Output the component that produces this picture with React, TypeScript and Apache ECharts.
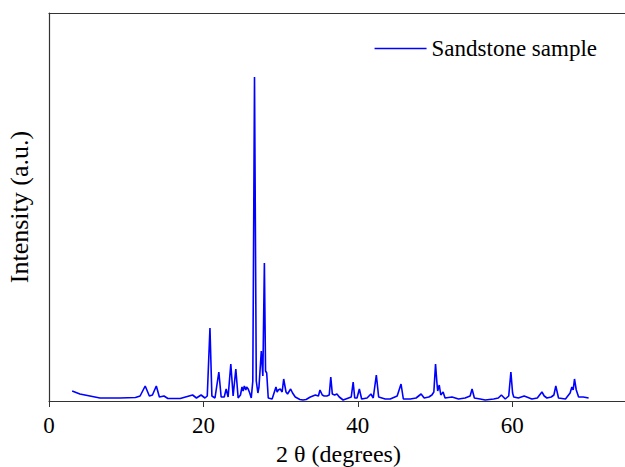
import React, { useEffect, useRef } from "react";
import * as echarts from "echarts";

const seriesName = "Sandstone sample";
const xTicks = [0, 20, 40, 60];

// 2θ (degrees)
const twoTheta = [
  3.0, 4.0, 6.6, 9.2, 11.2, 11.8, 12.46, 13.0, 13.4, 13.9, 14.3, 14.9, 15.4, 17.0,
  18.6, 19.1, 19.7, 20.2, 20.5, 20.85, 21.1, 21.5, 22.0, 22.3, 22.7, 22.95, 23.2,
  23.55, 23.85, 24.2, 24.5, 24.8, 25.0, 25.15, 25.3, 25.5, 25.6, 25.8, 26.0, 26.2,
  26.4, 26.62, 26.85, 27.06, 27.2, 27.5, 27.7, 27.9, 28.05, 28.2, 28.4, 28.9, 29.4,
  29.55, 29.7, 29.95, 30.2, 30.4, 30.7, 30.9, 31.3, 31.55, 31.9, 32.5, 32.9, 33.3,
  33.85, 34.5, 34.9, 35.1, 35.4, 35.65, 36.0, 36.3, 36.5, 36.7, 37.0, 37.3, 37.6,
  38.1, 38.8, 39.15, 39.4, 39.6, 39.9, 40.2, 40.5, 41.2, 41.7, 42.0, 42.4, 42.7,
  43.55, 44.2, 45.1, 45.6, 45.9, 46.8, 47.55, 48.2, 48.6, 49.2, 49.6, 49.85, 50.07,
  50.25, 50.35, 50.55, 50.75, 51.05, 51.3, 52.2, 53.05, 53.9, 54.55, 54.8, 55.1,
  55.85, 56.5, 57.6, 58.2, 58.6, 59.1, 59.55, 59.83, 60.05, 60.2, 60.8, 61.55, 62.55,
  63.25, 63.85, 64.15, 64.5, 65.05, 65.4, 65.65, 66.0, 66.9, 67.5, 67.73, 67.9, 68.07,
  68.3, 68.6, 69.2, 69.9,
];

// Intensity (a.u.)
const intensity = [
  10, 7, 3, 3, 3.5, 5, 15, 5, 6, 15, 4, 5, 2.5, 2.5,
  6, 3, 6, 3, 5, 73, 5, 3, 29, 4, 4, 12, 4,
  37, 5, 32, 3, 6, 14, 10, 15, 11, 14, 12, 8, 3,
  20, 324, 20, 8, 14, 50, 25, 138, 30, 28, 3, 2, 14,
  9, 11, 12, 9, 22, 9, 7, 12, 8, 4, 1.5, 1, 1.5,
  4, 6, 5, 11, 6, 5, 5, 6, 24, 7, 6, 7, 4,
  1, 3, 4, 19, 3, 3, 12, 2, 3, 7, 3, 26, 4,
  2, 2, 5, 17, 2, 2, 3, 7, 3, 4, 6, 9, 37,
  18, 10, 16, 6, 9, 3, 4, 2, 3, 5, 12, 3,
  2, 1, 2, 3, 6, 2, 5, 29, 8, 4, 3, 5, 2,
  3, 9, 5, 3, 4, 6, 15, 3, 2, 8, 14, 11, 22,
  11, 4, 4, 3,
];

const FONT = "Times New Roman, Liberation Serif, DejaVu Serif, serif";
const AXIS_COLOR = "#333333";

export default function App() {
  const ref = useRef<HTMLDivElement>(null);
  useEffect(() => {
    document.body.style.margin = "0";
    if (!ref.current) return;
    const chart = echarts.init(ref.current, undefined, { renderer: "svg" });
    const data = twoTheta.map((x, i) => [x, intensity[i]]);
    chart.setOption({
      animation: false,
      backgroundColor: "#ffffff",
      textStyle: { fontFamily: FONT },
      grid: {
        left: 49,
        right: -3,
        top: 13,
        bottom: 66,
        containLabel: false,
        outerBoundsMode: "none",
      },
      legend: {
        data: [seriesName],
        top: 32,
        right: 23,
        icon: "rect",
        itemWidth: 52,
        itemHeight: 1.5,
        itemGap: 11,
        textStyle: { fontFamily: FONT, fontSize: 23, color: "#000" },
      },
      xAxis: [
        {
          type: "value",
          min: 0,
          max: 75,
          interval: 20,
          name: "2 θ (degrees)",
          nameLocation: "middle",
          nameGap: 35,
          nameTextStyle: { fontFamily: FONT, fontSize: 24, lineHeight: 24, color: "#000" },
          axisLine: { show: true, lineStyle: { color: AXIS_COLOR, width: 1.2 } },
          axisTick: { show: true, inside: false, length: 6, lineStyle: { color: AXIS_COLOR } },
          axisLabel: {
            fontFamily: FONT,
            fontSize: 23,
            color: "#000",
            margin: 13,
            formatter: (v: number) => (xTicks.includes(v) ? String(v) : ""),
          },
          splitLine: { show: false },
        },
        {
          type: "value",
          position: "top",
          min: 0,
          max: 75,
          axisLine: { show: true, onZero: false, lineStyle: { color: AXIS_COLOR, width: 1.2 } },
          axisTick: { show: false },
          axisLabel: { show: false },
          splitLine: { show: false },
        },
      ],
      yAxis: {
        type: "value",
        min: 0,
        max: 388,
        name: "Intensity (a.u.)",
        nameLocation: "middle",
        nameGap: 17,
        nameTextStyle: { fontFamily: FONT, fontSize: 26, color: "#000" },
        axisLine: { show: true, lineStyle: { color: AXIS_COLOR, width: 1.2 } },
        axisTick: { show: false },
        axisLabel: { show: false },
        splitLine: { show: false },
      },
      series: [
        {
          name: seriesName,
          type: "line",
          data,
          showSymbol: false,
          symbol: "none",
          lineStyle: { color: "#0000ff", width: 1.6 },
          itemStyle: { color: "#0000ff" },
        },
      ],
    });
    return () => chart.dispose();
  }, []);
  return <div ref={ref} style={{ width: 625, height: 467 }} />;
}
